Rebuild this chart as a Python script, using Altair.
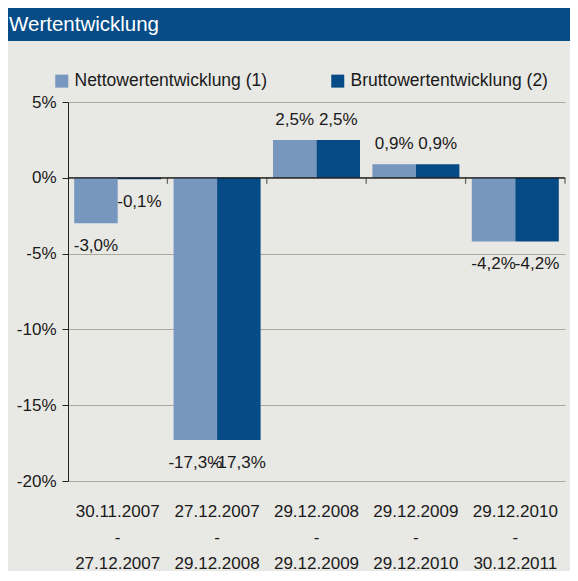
import altair as alt
import pandas as pd

categories = ["30.11.2007|-|27.12.2007", "27.12.2007|-|29.12.2008", "29.12.2008|-|29.12.2009",
              "29.12.2009|-|29.12.2010", "29.12.2010|-|30.12.2011"]
series = ["Nettowertentwicklung (1)", "Bruttowertentwicklung (2)"]
netto = [-3.0, -17.3, 2.5, 0.9, -4.2]
brutto = [-0.1, -17.3, 2.5, 0.9, -4.2]
y_ticks = [5, 0, -5, -10, -15, -20]
title_text = "Wertentwicklung"

rows = []
for c, n, b in zip(categories, netto, brutto):
    for s, v in ((series[0], n), (series[1], b)):
        rows.append({"cat": c, "series": s, "value": v,
                     "label": f"{v:.1f}".replace(".", ",") + "%"})
df = pd.DataFrame(rows)

FONT = "Liberation Sans, Arial, sans-serif"
LIGHT = "#7797BF"
DARK = "#064A86"
BG = "#E8E8E4"
BAND = "#074C87"
TXT = "#1a1a1a"

W, H = 497, 379

xs = alt.Scale(domain=categories, paddingInner=0, paddingOuter=0)
ys = alt.Scale(domain=[-20, 5], nice=False, zero=False)
xo = alt.Scale(domain=series, paddingInner=0, paddingOuter=0.1425)

base = alt.Chart(df)

x_enc = alt.X("cat:N", scale=xs, sort=categories, title=None,
              axis=alt.Axis(labelExpr="split(datum.label, '|')", labelAngle=0,
                            domain=False, ticks=False, labelPadding=22,
                            labelFont=FONT, labelFontSize=17, labelColor=TXT,
                            labelLineHeight=26, labelBaseline="top", grid=False))
y_enc = alt.Y("value:Q", scale=ys, title=None,
              axis=alt.Axis(values=y_ticks, labelExpr="datum.value + '%'",
                            labelFont=FONT, labelFontSize=17, labelColor=TXT,
                            domainColor="#222222", tickColor="#222222", tickSize=6,
                            labelPadding=6, gridColor="#A9A99B", gridWidth=1.2))

bars = base.mark_bar().encode(
    x=x_enc,
    xOffset=alt.XOffset("series:N", scale=xo, sort=series),
    y=y_enc,
    color=alt.Color("series:N", sort=series,
                    scale=alt.Scale(domain=series, range=[LIGHT, DARK]),
                    legend=alt.Legend(title=None, orient="none", legendX=-15, legendY=-30,
                                      direction="horizontal", symbolType="square",
                                      symbolSize=169, symbolStrokeWidth=0,
                                      labelFont=FONT, labelFontSize=17.5, labelColor=TXT,
                                      labelLimit=400, labelOffset=4, columnPadding=61)),
)

pos_text = base.transform_filter("datum.value >= 0").mark_text(
    font=FONT, fontSize=17, color=TXT, baseline="alphabetic", dy=-15
).encode(
    x=alt.X("cat:N", scale=xs, sort=categories),
    xOffset=alt.XOffset("series:N", scale=xo, sort=series),
    y=alt.Y("value:Q", scale=ys),
    text="label:N",
)
neg_text = base.transform_filter("datum.value < 0").mark_text(
    font=FONT, fontSize=17, color=TXT, baseline="alphabetic", dy=28
).encode(
    x=alt.X("cat:N", scale=xs, sort=categories),
    xOffset=alt.XOffset("series:N", scale=xo, sort=series),
    y=alt.Y("value:Q", scale=ys),
    text="label:N",
)

zero = alt.Chart(pd.DataFrame({"z": [0]})).mark_rule(color="#111111", strokeWidth=1.3).encode(
    y=alt.Y("z:Q", scale=ys)
)
cat_ticks = alt.Chart(pd.DataFrame({"cat": categories, "z": [0] * len(categories)})).mark_tick(
    orient="vertical", size=6, thickness=1.3, color="#333333", yOffset=3
).encode(
    x=alt.X("cat:N", scale=xs, sort=categories, bandPosition=1),
    y=alt.Y("z:Q", scale=ys),
)

head = alt.Chart(pd.DataFrame({"t": [title_text]}))
band = head.mark_rect(color=BAND).encode(
    x=alt.value(-60), x2=alt.value(502), y=alt.value(-94), y2=alt.value(-61)
)
title = head.mark_text(font=FONT, fontSize=20.5, color="white", align="left",
                       baseline="alphabetic").encode(
    x=alt.value(-59), y=alt.value(-71), text="t:N"
)

chart = alt.layer(band, title, bars, zero, cat_ticks, pos_text, neg_text).properties(
    width=W, height=H, background=BG, padding={"left": 0, "top": 0, "right": 0, "bottom": 0}
).configure_view(stroke=None)

chart.save("out.html", embed_options={"renderer": "svg", "actions": False})
